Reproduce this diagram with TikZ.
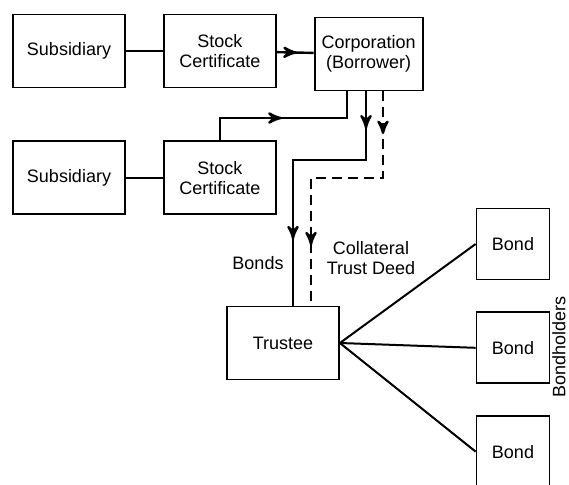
\documentclass[tikz,border=0pt]{standalone}
\usepackage{fontspec}
\setmainfont{Liberation Sans}
\usetikzlibrary{arrows,positioning,decorations.markings}

\begin{document}
\begin{tikzpicture}[x=0.5pt,y=-0.5pt,>=stealth',
			every node/.style={font=\fontsize{9}{10}\selectfont},
			box node/.style={rectangle,draw,line width=0.9pt,minimum width=56pt,minimum height=36.5pt,align=center,inner sep=1pt},
			bond node/.style={box node,minimum width=36.5pt,minimum height=35.5pt},
			link/.style={line width=1.2pt},
			flow/.style={postaction={decorate,solid,line width=1.4pt,decoration={markings,mark=at position #1 with {\arrow{>}}}}}]
			
			\useasboundingbox (0,0) rectangle (569,484);
			
			\node[box node] (sub1) at (69,51) {Subsidiary};
			\node[box node] (cert1) [right=18.5pt of sub1] {Stock\\Certificate};
			\node[box node,minimum width=54pt,yshift=-1.5pt] (corp) [right=18.5pt of cert1] {Corporation\\(Borrower)};
			\node[box node] (sub2) [below=26pt of sub1] {Subsidiary};
			\node[box node] (cert2) [right=18.5pt of sub2] {Stock\\Certificate};
			\node[box node] (trustee) at (283,343) {Trustee};
			\node[bond node] (bond1) at (513,244) {Bond};
			\node[bond node] (bond2) [below=15.5pt of bond1] {Bond};
			\node[bond node] (bond3) [below=15.5pt of bond2] {Bond};
			\node[rotate=90,inner sep=0pt] (holders) at (559,347) {Bondholders};
			
			\node (bondslbl) at (258,263) {Bonds};
			\node[align=center] (deedlbl) at (371,258) {Collateral\\Trust Deed};
			
			% turning points of the three lines under the corporation
			\coordinate (j1) at (347,118);
			\coordinate (j2) at (366,160);
			\coordinate (j3) at (293,160);
			\coordinate (j4) at (383,178);
			\coordinate (j5) at (311,178);
			
			\draw[link] (sub1) -- (cert1);
			\draw[link,flow=0.55] (cert1) -- (corp);
			\draw[link] (sub2) -- (cert2);
			\draw[link,flow=0.48] (cert2.north) |- (j1) -- (j1 |- corp.south);
			\draw[link,flow=0.13,flow=0.77] (j2 |- corp.south) -- (j2) -- (j3) -- (j3 |- trustee.north);
			\draw[link,dashed,dash pattern=on 5pt off 3pt,flow=0.15,flow=0.79] (j4 |- corp.south) -- (j4) -- (j5) -- (j5 |- trustee.north);
			
			\path[line width=1pt]
			(trustee.east) edge (bond1.west)
			(trustee.east) edge (bond2.west)
			(trustee.east) edge (bond3.west)
			;
\end{tikzpicture}
\end{document}
